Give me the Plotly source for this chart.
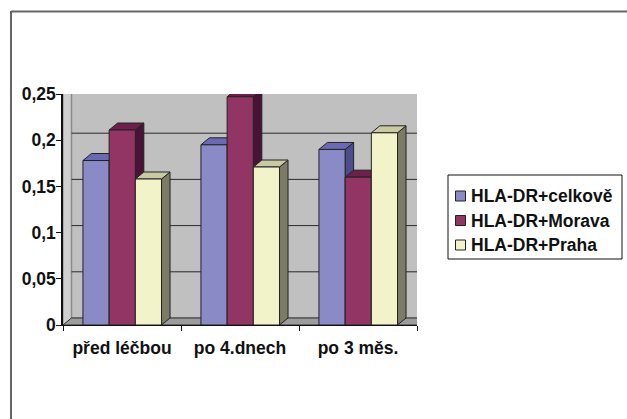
import plotly.graph_objects as go

# --- data ---
categories = ["před léčbou", "po 4.dnech", "po 3 měs."]
series_names = ["HLA-DR+celkově", "HLA-DR+Morava", "HLA-DR+Praha"]
celkove = [0.178, 0.195, 0.190]
morava = [0.211, 0.247, 0.160]
praha = [0.158, 0.171, 0.208]
y_ticks = [0, 0.05, 0.1, 0.15, 0.2, 0.25]

# --- styling ---
W, H = 627, 419
FONT = "Liberation Sans"
FS = 17.5
front_colors = ["#8a8ac6", "#923464", "#f3f3ca"]
top_colors = ["#6a6ab4", "#6e1f4b", "#c9c9a4"]
side_colors = ["#4d4d8e", "#4a1236", "#7b7b66"]
EDGE = "#222222"

# front plane of the plot box, in pixels
PX_L, PX_R = 63, 417
PX_B, PX_T = 325, 94
DEPTH_X, DEPTH_Y = 8.5, 7.0

x_range = [-0.5, len(categories) - 0.5]
y_range = [0, 0.25]
ux = (PX_R - PX_L) / (x_range[1] - x_range[0])
uy = (PX_B - PX_T) / (y_range[1] - y_range[0])
DX = DEPTH_X / ux
DY = DEPTH_Y / uy

GROUP_LEFT = -0.331
BAR_W = 0.222

xs = list(range(len(categories)))
series = [celkove, morava, praha]


def poly(pts):
    return "M " + " L ".join(f"{x},{y}" for x, y in pts) + " Z"


fig = go.Figure()
for i, (name, vals) in enumerate(zip(series_names, series)):
    fig.add_trace(go.Bar(
        x=xs, y=vals, name=name,
        offset=GROUP_LEFT + i * BAR_W, width=BAR_W,
        marker=dict(color=front_colors[i], line=dict(color=EDGE, width=1)),
        showlegend=False,
    ))

shapes = []
x0w, x1w = x_range
y0w, y1w = y_range
# left side wall
shapes.append(dict(type="path", xref="x", yref="y", layer="below",
                   path=poly([(x0w, y0w), (x0w + DX, y0w + DY), (x0w + DX, y1w + DY), (x0w, y1w)]),
                   fillcolor="#cfcfcf", line=dict(color="#8a8a8a", width=1)))
# back wall
shapes.append(dict(type="path", xref="x", yref="y", layer="below",
                   path=poly([(x0w + DX, y0w + DY), (x1w + DX, y0w + DY), (x1w + DX, y1w + DY), (x0w + DX, y1w + DY)]),
                   fillcolor="#c0c0c0", line=dict(color="#8a8a8a", width=1.5)))
# back-wall gridlines
for t in y_ticks[1:-1]:
    shapes.append(dict(type="line", xref="x", yref="y", layer="below",
                       x0=x0w + DX, x1=x1w + DX, y0=t + DY, y1=t + DY,
                       line=dict(color="#2a2a2a", width=1)))
# floor
shapes.append(dict(type="path", xref="x", yref="y", layer="below",
                   path=poly([(x0w, y0w), (x1w, y0w), (x1w + DX, y0w + DY), (x0w + DX, y0w + DY)]),
                   fillcolor="#9c9c9c", line=dict(color="#333333", width=1)))

# depth faces of the bars, left to right
for c in xs:
    for i, vals in enumerate(series):
        v = vals[c]
        bx0 = c + GROUP_LEFT + i * BAR_W
        bx1 = bx0 + BAR_W
        shapes.append(dict(type="path", xref="x", yref="y", layer="below",
                           path=poly([(bx1, 0), (bx1 + DX, DY), (bx1 + DX, v + DY), (bx1, v)]),
                           fillcolor=side_colors[i], line=dict(color=EDGE, width=1)))
        shapes.append(dict(type="path", xref="x", yref="y", layer="below",
                           path=poly([(bx0, v), (bx1, v), (bx1 + DX, v + DY), (bx0 + DX, v + DY)]),
                           fillcolor=top_colors[i], line=dict(color=EDGE, width=1)))

# chart frame (top and left edges)
shapes.append(dict(type="line", xref="paper", yref="paper", x0=11 / W, x1=1, y0=1 - 11.5 / H, y1=1 - 11.5 / H,
                   line=dict(color="#666666", width=2)))
shapes.append(dict(type="line", xref="paper", yref="paper", x0=11 / W, x1=11 / W, y0=0, y1=1 - 11 / H,
                   line=dict(color="#666666", width=2)))

# legend box
LG_L, LG_R, LG_T, LG_B = 448, 622, 175, 259
shapes.append(dict(type="rect", xref="paper", yref="paper",
                   x0=LG_L / W, x1=LG_R / W, y0=1 - LG_B / H, y1=1 - LG_T / H,
                   fillcolor="white", line=dict(color="#111111", width=1)))
annotations = []
row_y = [196, 220.5, 245]
for i, name in enumerate(series_names):
    yc = row_y[i]
    shapes.append(dict(type="rect", xref="paper", yref="paper",
                       x0=455.5 / W, x1=465.5 / W, y0=1 - (yc + 5) / H, y1=1 - (yc - 5) / H,
                       fillcolor=front_colors[i], line=dict(color=EDGE, width=1)))
    annotations.append(dict(xref="paper", yref="paper", x=469 / W, y=1 - yc / H,
                            xanchor="left", yanchor="middle", showarrow=False, text=name,
                            font=dict(family=FONT, size=FS, color="#111111", weight="bold")))

fig.update_layout(
    width=W, height=H,
    margin=dict(l=0, r=0, t=0, b=0, pad=0, autoexpand=False),
    paper_bgcolor="white", plot_bgcolor="rgba(0,0,0,0)",
    barmode="overlay",
    separators=", ",
    shapes=shapes,
    annotations=annotations,
    showlegend=False,
    xaxis=dict(
        domain=[PX_L / W, PX_R / W], range=x_range, automargin=False,
        tickvals=xs, ticktext=categories, ticks="",
        showgrid=False, zeroline=False,
        showline=True, linecolor="#111111", linewidth=1,
        ticklabelstandoff=7,
        tickfont=dict(family=FONT, size=FS, color="#111111", weight="bold"),
        minor=dict(tickvals=[x_range[0] + k for k in range(len(categories) + 1)],
                   ticks="outside", ticklen=5, tickcolor="#111111", tickwidth=1, showgrid=False),
    ),
    yaxis=dict(
        domain=[1 - PX_B / H, 1 - PX_T / H], range=y_range, automargin=False,
        tickvals=y_ticks, ticks="outside", ticklen=5, tickcolor="#111111",
        showgrid=False, zeroline=False,
        showline=True, linecolor="#111111", linewidth=1.5,
        ticklabelstandoff=-3,
        tickfont=dict(family=FONT, size=FS, color="#111111", weight="bold"),
    ),
)

fig.write_html("out.html")
